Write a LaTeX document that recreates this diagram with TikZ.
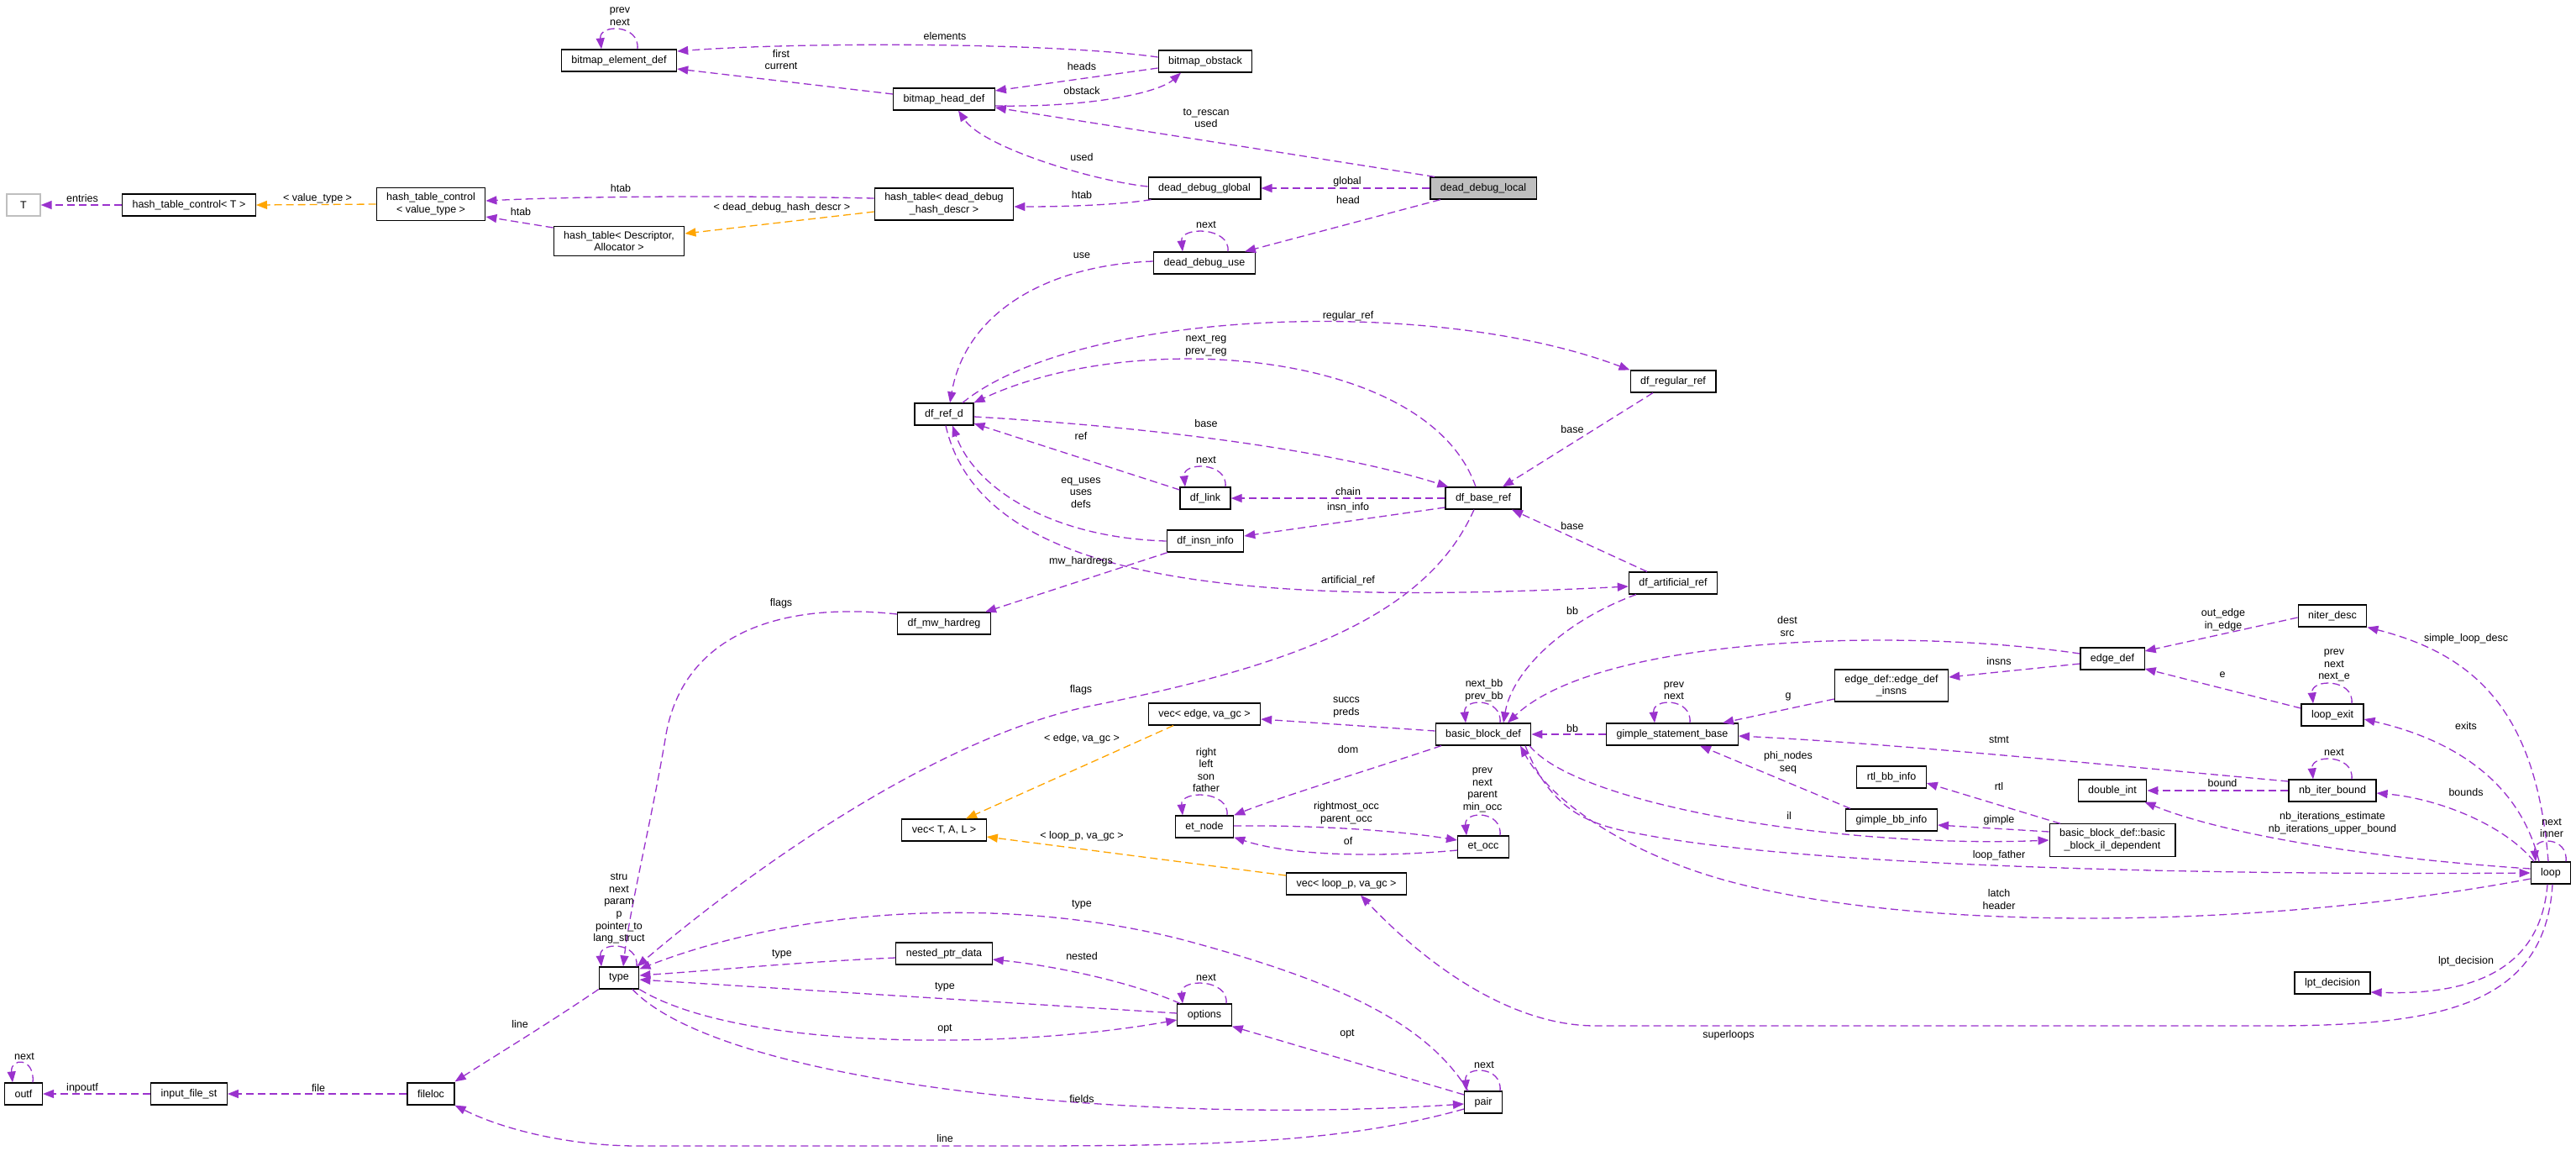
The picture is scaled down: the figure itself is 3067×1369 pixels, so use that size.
\documentclass[tikz,border=0pt]{standalone}
\usepackage{fontspec}
\setmainfont{Liberation Sans}
\usetikzlibrary{arrows.meta, positioning}
\definecolor{edgeuse}{HTML}{9A32CD}
\definecolor{edgetpl}{HTML}{FFA500}
\newcommand{\dxfont}{\fontsize{12.5}{14.6}\selectfont}
\tikzset{
    collab/.style={font=\dxfont, x=1pt, y=-1pt},
    cls/.style={draw, line width=1.2pt, fill=white, align=center, inner xsep=12pt, inner ysep=6pt, minimum height=26pt},
    focus/.style={cls, fill=black!25},
    extern/.style={cls, draw=black!25},
    % usage relation (member of that type) and template instance
    uses/.style={-{Triangle[length=13pt,width=10pt]}, draw=edgeuse, line width=1.3pt, dash pattern=on 9pt off 5pt},
    inst/.style={uses, draw=edgetpl},
    lbl/.style={inner sep=0pt, align=center},
}

\begin{document}
\begin{tikzpicture}[collab]
    \useasboundingbox[fill=white] (0,0) rectangle (3067,1369);

    % classes
    \node[extern, minimum width=40pt] (T) at (28,244) {T};
    \node[cls] (htcT)    at (225,244)  {hash\_table\_control< T >};
    \node[cls] (htcV)    at (513,243)  {hash\_table\_control\\< value\_type >};
    \node[cls] (htDA)    at (737,287)  {hash\_table< Descriptor,\\Allocator >};
    \node[cls] (bed)     at (737,72)   {bitmap\_element\_def};
    \node[cls] (htDD)    at (1124,243) {hash\_table< dead\_debug\\\_hash\_descr >};
    \node[cls] (bhd)     at (1124,118) {bitmap\_head\_def};
    \node[cls] (bos)     at (1435,73)  {bitmap\_obstack};
    \node[cls] (ddg)     at (1434,224) {dead\_debug\_global};
    \node[focus] (ddl)   at (1766,224) {dead\_debug\_local};
    \node[cls] (ddu)     at (1434,313) {dead\_debug\_use};
    \node[cls] (dfref)   at (1124,493) {df\_ref\_d};
    \node[cls] (dflink)  at (1435,593) {df\_link};
    \node[cls] (dfinsn)  at (1435,644) {df\_insn\_info};
    \node[cls] (dfbase)  at (1766,593) {df\_base\_ref};
    \node[cls] (dfreg)   at (1992,454) {df\_regular\_ref};
    \node[cls] (dfart)   at (1992,694) {df\_artificial\_ref};
    \node[cls] (dfmw)    at (1124,742) {df\_mw\_hardreg};
    \node[cls] (vecedge) at (1434,850) {vec< edge, va\_gc >};
    \node[cls] (bbd)     at (1766,874) {basic\_block\_def};
    \node[cls] (gsb)     at (1991,874) {gimple\_statement\_base};
    \node[cls] (edins)   at (2252,816) {edge\_def::edge\_def\\\_insns};
    \node[cls] (rtlbb)   at (2252,925) {rtl\_bb\_info};
    \node[cls] (gbb)     at (2252,976) {gimple\_bb\_info};
    \node[cls] (edgd)    at (2515,784) {edge\_def};
    \node[cls] (bbil)    at (2515,1000) {basic\_block\_def::basic\\\_block\_il\_dependent};
    \node[cls] (dint)    at (2515,941) {double\_int};
    \node[cls] (niter)   at (2777,733) {niter\_desc};
    \node[cls] (lexit)   at (2777,851) {loop\_exit};
    \node[cls] (nbib)    at (2777,941) {nb\_iter\_bound};
    \node[cls] (lp)      at (3037,1039) {loop};
    \node[cls] (lpt)     at (2777,1170) {lpt\_decision};
    \node[cls] (vecloop) at (1603,1052) {vec< loop\_p, va\_gc >};
    \node[cls] (vecT)    at (1124,988) {vec< T, A, L >};
    \node[cls] (etnode)  at (1434,984) {et\_node};
    \node[cls] (etocc)   at (1766,1008) {et\_occ};
    \node[cls] (typ)     at (737,1164) {type};
    \node[cls] (npd)     at (1124,1135) {nested\_ptr\_data};
    \node[cls] (opts)    at (1434,1208) {options};
    \node[cls] (pair)    at (1766,1312) {pair};
    \node[cls] (outf)    at (28,1302)  {outf};
    \node[cls] (ifs)     at (225,1302) {input\_file\_st};
    \node[cls] (fileloc) at (513,1302) {fileloc};

    % bitmaps and hash tables
    \draw[uses] ([xshift=22pt]bed.north) .. controls +(3,-30) and +(-3,-30) .. ([xshift=-21pt]bed.north);
    \draw[uses] ([yshift=5pt]bos.west) .. controls (1250,50) and (950,50) .. ([yshift=11pt]bed.east);
    \draw[uses] ([yshift=6pt]bhd.west) -- ([yshift=-10pt]bed.east);
    \draw[uses] ([yshift=-8pt]bos.west) -- ([yshift=10pt]bhd.east);
    \draw[uses] ([yshift=-8pt]bhd.east) .. controls (1300,128) and (1380,110) .. ([xshift=-29pt]bos.south);
    \draw[uses] ([xshift=-58pt]ddl.north) -- ([yshift=-10pt]bhd.east);
    \draw[uses] ([yshift=2pt]ddg.west) .. controls (1300,215) and (1170,175) .. ([xshift=17pt]bhd.south);
    \draw[uses] (ddl.west) -- (ddg.east);
    \draw[uses] ([xshift=-51pt]ddl.south) -- ([xshift=48pt]ddu.north);
    \draw[uses] ([xshift=28pt]ddu.north) .. controls +(3,-30) and +(-3,-30) .. ([xshift=-26pt]ddu.north);
    \draw[uses] ([xshift=4pt]ddg.south west) .. controls (1330,244) and (1270,246) .. ([yshift=-3pt]htDD.east);
    \draw[uses] ([yshift=7pt]htDD.west) .. controls (900,233) and (700,233) .. ([yshift=4pt]htcV.east);
    \draw[inst] ([yshift=-9pt]htDD.west) -- ([yshift=9pt]htDA.east);
    \draw[uses] ([yshift=16pt]htDA.west) -- ([yshift=-15pt]htcV.east);
    \draw[inst] (htcV.west) -- (htcT.east);
    \draw[uses] (htcT.west) -- (T.east);

    % dataflow refs
    \draw[uses] ([yshift=2pt]ddu.west) .. controls (1250,315) and (1150,370) .. ([xshift=7pt]dfref.north);
    \draw[uses] ([xshift=22pt]dfref.north) .. controls (1280,370) and (1700,350) .. (dfreg.north west);
    \draw[uses] ([xshift=-9pt]dfbase.north) .. controls (1700,415) and (1350,390) .. (dfref.north east);
    \draw[uses] ([yshift=-3pt]dfref.east) .. controls (1400,510) and (1600,540) .. ([xshift=4pt]dfbase.north west);
    \draw[uses] ([yshift=10pt]dflink.west) -- ([yshift=-11pt]dfref.east);
    \draw[uses] ([xshift=24pt]dflink.north) .. controls +(3,-30) and +(-3,-30) .. ([xshift=-24pt]dflink.north);
    \draw[uses] (dfbase.west) -- (dflink.east);
    \draw[uses] ([yshift=-11pt]dfbase.west) -- ([yshift=6pt]dfinsn.east);
    \draw[uses] (dfinsn.west) .. controls (1250,640) and (1160,580) .. ([xshift=10pt]dfref.south);
    \draw[uses] ([xshift=-24pt]dfreg.south) -- ([xshift=23pt]dfbase.north);
    \draw[uses] ([xshift=-31pt]dfart.north) -- ([xshift=34pt]dfbase.south);
    \draw[uses] ([xshift=2pt]dfref.south) .. controls (1170,700) and (1500,720) .. ([yshift=-4pt]dfart.west);
    \draw[uses] ([xshift=-45pt]dfinsn.south) -- ([xshift=49pt]dfmw.north);
    \draw[uses] ([yshift=11pt]dfmw.west) .. controls (920,715) and (810,760) .. (792,880)
        .. controls (775,980) and (750,1080) .. ([xshift=5pt]typ.north);
    \draw[uses] ([xshift=-11pt]dfbase.south) .. controls (1700,730) and (1550,790) .. (1300,840)
        .. controls (1120,876) and (900,1030) .. ([xshift=-3pt]typ.north east);
    \draw[uses] ([xshift=-44pt]dfart.south) .. controls (1860,740) and (1800,800) .. ([xshift=24pt]bbd.north);

    % basic blocks, edges, loops
    \draw[uses] ([xshift=20pt]bbd.north) .. controls +(3,-30) and +(-3,-30) .. ([xshift=-21pt]bbd.north);
    \draw[uses] ([yshift=4pt]bbd.west) -- ([yshift=-6pt]vecedge.east);
    \draw[uses] ([yshift=6pt]edgd.west) .. controls (2250,745) and (1900,760) .. ([xshift=29pt]bbd.north);
    \draw[uses] (gsb.west) -- (bbd.east);
    \draw[uses] ([xshift=21pt]gsb.north) .. controls +(3,-30) and +(-3,-30) .. ([xshift=-21pt]gsb.north);
    \draw[uses] ([yshift=-16pt]edins.west) -- ([xshift=60pt]gsb.north);
    \draw[uses] ([yshift=-6pt]edgd.west) -- ([yshift=10pt]edins.east);
    \draw[uses] ([yshift=-2pt]niter.west) -- ([yshift=9pt]edgd.east);
    \draw[uses] ([yshift=8pt]lexit.west) -- ([yshift=-12pt]edgd.east);
    \draw[uses] ([xshift=23pt]lexit.north) .. controls +(3,-30) and +(-3,-30) .. ([xshift=-23pt]lexit.north);
    \draw[uses] ([yshift=11pt]nbib.west) .. controls (2450,905) and (2250,885) .. ([yshift=-2pt]gsb.east);
    \draw[uses] ([xshift=23pt]nbib.north) .. controls +(3,-30) and +(-3,-30) .. ([xshift=-23pt]nbib.north);
    \draw[uses] (nbib.west) -- (dint.east);
    \draw[uses] ([yshift=5pt]lp.west) .. controls (2800,1020) and (2640,990) .. ([xshift=-3pt]dint.south east);
    \draw[uses] ([xshift=-3pt]lp.north) .. controls (3020,850) and (2950,780) .. (niter.south east);
    \draw[uses] ([xshift=-14pt]lp.north) .. controls (3000,930) and (2920,880) .. ([yshift=-5pt]lexit.east);
    \draw[uses] ([xshift=-20pt]lp.north) .. controls (2980,980) and (2900,950) .. ([yshift=-3pt]nbib.east);
    \draw[uses] ([xshift=18pt]lp.north) .. controls +(3,-30) and +(-3,-30) .. ([xshift=-18pt]lp.north);
    \draw[uses] ([xshift=-4pt]lp.south) .. controls (3025,1150) and (2950,1185) .. ([yshift=-11pt]lpt.east);
    \draw[uses] ([xshift=2pt]lp.south) .. controls (3030,1200) and (2900,1221) .. (2700,1221) -- (1900,1221)
        .. controls (1800,1221) and (1700,1150) .. ([xshift=17pt]vecloop.south);
    \draw[uses] ([xshift=50pt]bbd.south) .. controls (1850,975) and (1905,984) .. (1960,994)
        .. controls (2150,1030) and (2600,1042) .. (lp.west);
    \draw[uses] ([yshift=-7pt]lp.west) .. controls (2700,1105) and (2300,1110) .. (2070,1052)
        .. controls (1950,1022) and (1850,960) .. ([xshift=44pt]bbd.south);
    \draw[uses] ([xshift=55pt]bbd.south) .. controls (1880,960) and (2200,1010) .. (bbil.west);
    \draw[uses] ([xshift=-62pt]bbil.north) -- ([yshift=-7pt]rtlbb.east);
    \draw[uses] ([yshift=10pt]bbil.west) -- ([yshift=-6pt]gbb.east);
    \draw[uses] ([xshift=-49pt]gbb.north) -- ([xshift=33pt]gsb.south);
    \draw[uses] ([xshift=-50pt]bbd.south) .. controls (1650,910) and (1520,950) .. (etnode.north east);
    \draw[uses] ([xshift=27pt]etnode.north) .. controls +(3,-30) and +(-3,-30) .. ([xshift=-26pt]etnode.north);
    \draw[uses] ([yshift=1pt]etnode.east) .. controls (1560,982) and (1660,988) .. ([yshift=8pt]etocc.west);
    \draw[uses] ([yshift=-4pt]etocc.west) .. controls (1650,1020) and (1540,1020) .. ([yshift=1pt]etnode.south east);
    \draw[uses] ([xshift=20pt]etocc.north) .. controls +(3,-30) and +(-3,-30) .. ([xshift=-20pt]etocc.north);
    \draw[inst] ([xshift=-37pt]vecedge.south) -- ([xshift=26pt]vecT.north);
    \draw[inst] ([yshift=10pt]vecloop.west) -- ([yshift=-8pt]vecT.east);

    % gengtype types
    \draw[uses] ([xshift=21pt]typ.north) .. controls +(3,-30) and +(-3,-30) .. ([xshift=-21pt]typ.north);
    \draw[uses] (typ.south west) .. controls (650,1220) and (600,1250) .. ([yshift=1pt]fileloc.north east);
    \draw[uses] (fileloc.west) -- (ifs.east);
    \draw[uses] (ifs.west) -- (outf.east);
    \draw[uses] ([xshift=11pt]outf.north) .. controls +(3,-30) and +(-3,-30) .. ([xshift=-13pt]outf.north);
    \draw[uses] ([yshift=-5pt]npd.west) .. controls (950,1145) and (850,1155) .. ([yshift=3pt]typ.east);
    \draw[uses] ([xshift=-29pt]opts.north) .. controls (1350,1170) and (1260,1150) .. ([yshift=-7pt]npd.east);
    \draw[uses] ([yshift=2pt]opts.west) -- ([yshift=-2pt]typ.east);
    \draw[uses] (typ.south east) .. controls (880,1250) and (1200,1250) .. ([yshift=-6pt]opts.west);
    \draw[uses] ([xshift=26pt]opts.north) .. controls +(3,-30) and +(-3,-30) .. ([xshift=-26pt]opts.north);
    \draw[uses] ([xshift=-18pt]pair.north) .. controls (1700,1220) and (1600,1170) .. (1410,1119)
        .. controls (1200,1065) and (950,1080) .. ([yshift=-3pt]typ.north east);
    \draw[uses] ([yshift=9pt]pair.west) -- (opts.south east);
    \draw[uses] ([xshift=20pt]pair.north) .. controls +(3,-30) and +(-3,-30) .. ([xshift=-20pt]pair.north);
    \draw[uses] ([xshift=16pt]typ.south) .. controls (860,1290) and (1350,1340) .. ([yshift=-2pt]pair.west);
    \draw[uses] ([yshift=-8pt]pair.west) .. controls (1600,1360) and (1450,1364) .. (1200,1364) -- (760,1364)
        .. controls (680,1364) and (600,1345) .. (fileloc.south east);

    % member names
    \node[lbl] (lb-entries)  at (98,236)    {entries};
    \node[lbl] (lb-vtype)    at (378,236)   {< value\_type >};
    \node[lbl] (lb-htab1)    at (739,224)   {htab};
    \node[lbl] (lb-htab2)    at (620,252)   {htab};
    \node[lbl] (lb-bedloop)  at (738,19.5)  {prev\\next};
    \node[lbl] (lb-elements) at (1125,43)   {elements};
    \node[lbl] (lb-first)    at (930,71)    {first\\current};
    \node[lbl] (lb-heads)    at (1288,79)   {heads};
    \node[lbl] (lb-obstack)  at (1288,108)  {obstack};
    \node[lbl] (lb-used)     at (1288,187)  {used};
    \node[lbl] (lb-htab3)    at (1288,232)  {htab};
    \node[lbl] (lb-ddhd)     at (931,247)   {< dead\_debug\_hash\_descr >};
    \node[lbl] (lb-use)      at (1288,304)  {use};
    \node[lbl] (lb-rescan)   at (1436,140.5) {to\_rescan\\used};
    \node[lbl] (lb-global)   at (1604,216)  {global};
    \node[lbl] (lb-head)     at (1605,238)  {head};
    \node[lbl] (lb-dduloop)  at (1436,268)  {next};
    \node[lbl] (lb-regref)   at (1605,376)  {regular\_ref};
    \node[lbl] (lb-nextreg)  at (1436,411.5) {next\_reg\\prev\_reg};
    \node[lbl] (lb-ref)      at (1287,519)  {ref};
    \node[lbl] (lb-equses)   at (1287,586.5) {eq\_uses\\uses\\defs};
    \node[lbl] (lb-mwhard)   at (1287,668)  {mw\_hardregs};
    \node[lbl] (lb-flags1)   at (930,718)   {flags};
    \node[lbl] (lb-flags2)   at (1287,821)  {flags};
    \node[lbl] (lb-edgeva)   at (1288,879)  {< edge, va\_gc >};
    \node[lbl] (lb-base1)    at (1436,504)  {base};
    \node[lbl] (lb-linkloop) at (1436,548)  {next};
    \node[lbl] (lb-chain)    at (1605,585)  {chain};
    \node[lbl] (lb-insninfo) at (1605,604)  {insn\_info};
    \node[lbl] (lb-base2)    at (1872,511)  {base};
    \node[lbl] (lb-base3)    at (1872,626)  {base};
    \node[lbl] (lb-artref)   at (1605,691)  {artificial\_ref};
    \node[lbl] (lb-bb1)      at (1872,727)  {bb};
    \node[lbl] (lb-bbdloop)  at (1767,822)  {next\_bb\\prev\_bb};
    \node[lbl] (lb-succs)    at (1603,842)  {succs\\preds};
    \node[lbl] (lb-bb2)      at (1872,867)  {bb};
    \node[lbl] (lb-gsbloop)  at (1993,822)  {prev\\next};
    \node[lbl] (lb-dom)      at (1605,892)  {dom};
    \node[lbl] (lb-etnloop)  at (1436,916.5) {right\\left\\son\\father};
    \node[lbl] (lb-rmocc)    at (1603,967.5) {rightmost\_occ\\parent\_occ};
    \node[lbl] (lb-of)       at (1605,1001) {of};
    \node[lbl] (lb-etoloop)  at (1765,940.5) {prev\\next\\parent\\min\_occ};
    \node[lbl] (lb-optloop)  at (1436,1163) {next};
    \node[lbl] (lb-opt1)     at (1604,1231) {opt};
    \node[lbl] (lb-pairloop) at (1767,1267) {next};
    \node[lbl] (lb-typloop)  at (737,1081.5) {stru\\next\\param\\p\\pointer\_to\\lang\_struct};
    \node[lbl] (lb-line1)    at (619,1219)  {line};
    \node[lbl] (lb-outfloop) at (29,1257)   {next};
    \node[lbl] (lb-inpoutf)  at (98,1295)   {inpoutf};
    \node[lbl] (lb-file)     at (379,1295)  {file};
    \node[lbl] (lb-loopva)   at (1288,995)  {< loop\_p, va\_gc >};
    \node[lbl] (lb-type1)    at (1288,1077) {type};
    \node[lbl] (lb-type2)    at (931,1136)  {type};
    \node[lbl] (lb-nested)   at (1288,1138) {nested};
    \node[lbl] (lb-type3)    at (1125,1175) {type};
    \node[lbl] (lb-opt2)     at (1125,1225) {opt};
    \node[lbl] (lb-fields)   at (1288,1308) {fields};
    \node[lbl] (lb-line2)    at (1125,1355) {line};
    \node[lbl] (lb-dest)     at (2128,745.5) {dest\\src};
    \node[lbl] (lb-outedge)  at (2647,738)  {out\_edge\\in\_edge};
    \node[lbl] (lb-insns)    at (2380,787)  {insns};
    \node[lbl] (lb-e)        at (2646,803)  {e};
    \node[lbl] (lb-g)        at (2129,829)  {g};
    \node[lbl] (lb-stmt)     at (2380,881)  {stmt};
    \node[lbl] (lb-phi)      at (2129,907.5) {phi\_nodes\\seq};
    \node[lbl] (lb-rtl)      at (2380,936)  {rtl};
    \node[lbl] (lb-bound)    at (2646,932)  {bound};
    \node[lbl] (lb-il)       at (2130,971)  {il};
    \node[lbl] (lb-gimple)   at (2380,976)  {gimple};
    \node[lbl] (lb-father)   at (2380,1018) {loop\_father};
    \node[lbl] (lb-latch)    at (2380,1070.5) {latch\\header};
    \node[lbl] (lb-sld)      at (2936,760)  {simple\_loop\_desc};
    \node[lbl] (lb-lexloop)  at (2779,792)  {prev\\next\\next\_e};
    \node[lbl] (lb-exits)    at (2936,864)  {exits};
    \node[lbl] (lb-nbloop)   at (2779,896)  {next};
    \node[lbl] (lb-bounds)   at (2936,943)  {bounds};
    \node[lbl] (lb-nbiter)   at (2777,979.5) {nb\_iterations\_estimate\\nb\_iterations\_upper\_bound};
    \node[lbl] (lb-lploop)   at (3038,985.5) {next\\inner};
    \node[lbl] (lb-lpt)      at (2936,1144) {lpt\_decision};
    \node[lbl] (lb-super)    at (2058,1232) {superloops};
\end{tikzpicture}
\end{document}
